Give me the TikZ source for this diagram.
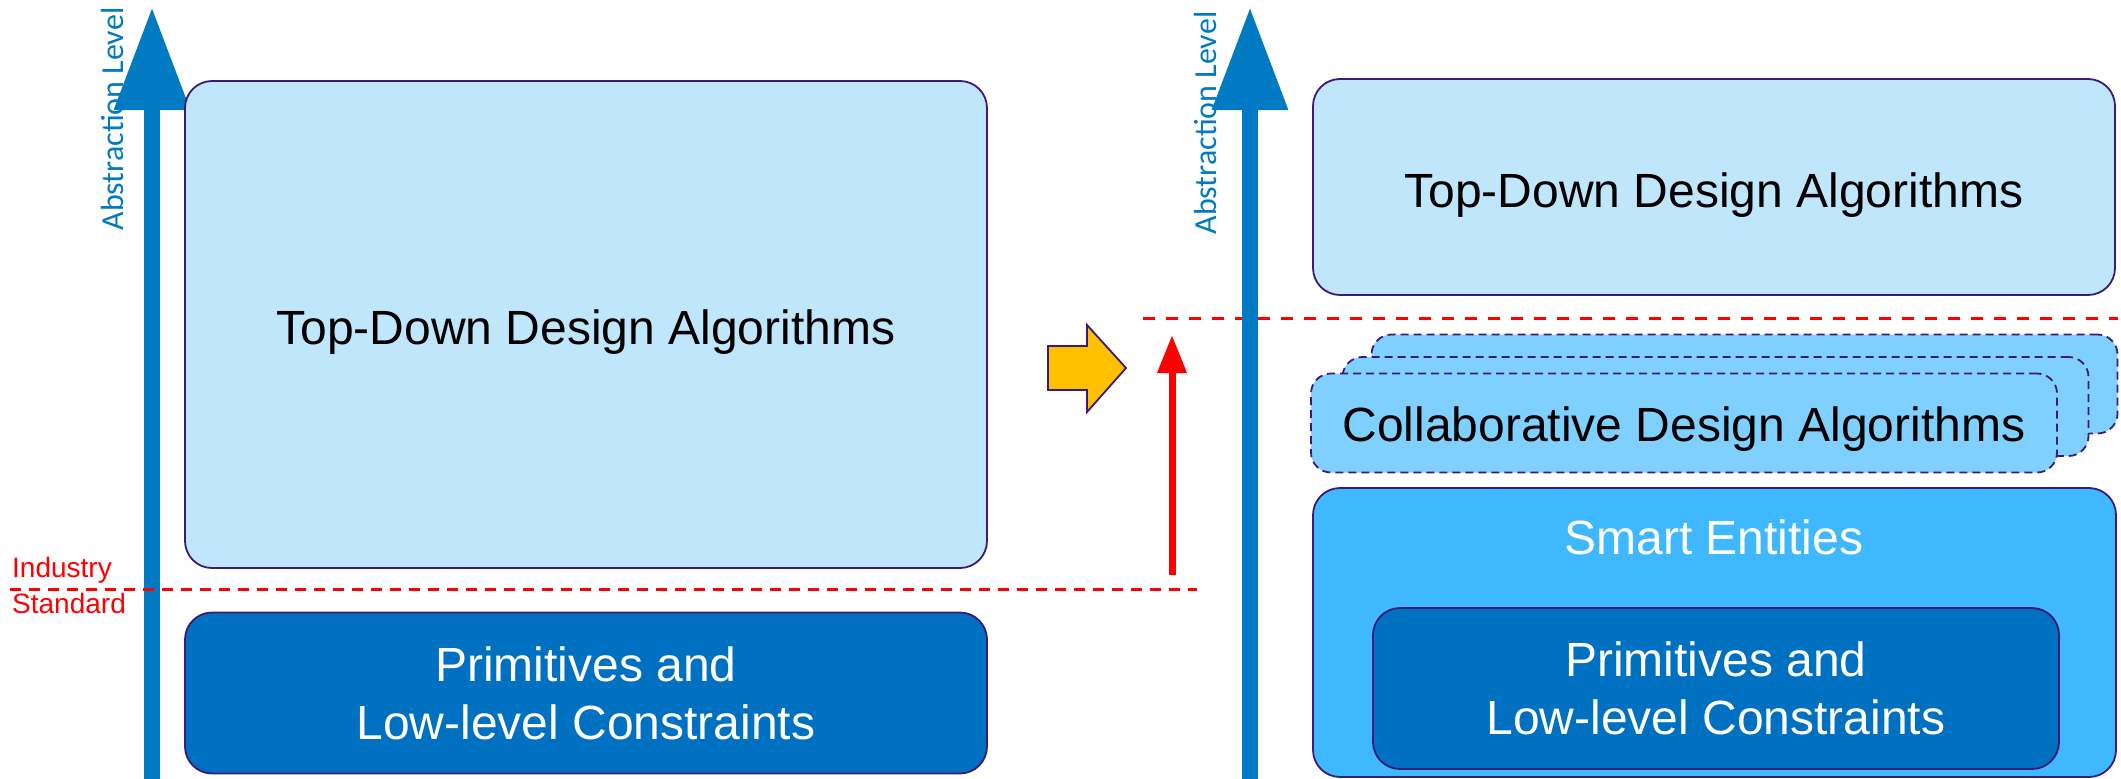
\documentclass[tikz,border=0pt]{standalone}
\usepackage{fontspec}
\setmainfont{Liberation Sans}
\newfontfamily\axisfont{Carlito}
\usetikzlibrary{arrows.meta}
\definecolor{axisblue}{RGB}{0,122,194}
\definecolor{edgepurple}{RGB}{60,26,120}
\definecolor{paleblue}{RGB}{192,230,252}
\definecolor{deepblue}{RGB}{0,112,192}
\definecolor{skyblue}{RGB}{64,184,255}
\definecolor{collabblue}{RGB}{128,208,255}
\definecolor{arrowgold}{RGB}{255,192,0}
\begin{document}
\begin{tikzpicture}[x=1pt,y=-1pt,
  box/.style={draw=edgepurple, line width=1.8pt, rounded corners=27pt,
    inner sep=0pt, align=center, font=\fontsize{48}{58}\selectfont},
  palebox/.style={box, fill=paleblue, text=black},
  deepbox/.style={box, fill=deepblue, text=white},
  collabbox/.style={box, fill=collabblue, dashed, dash pattern=on 8pt off 5pt,
    rounded corners=20pt, minimum width=746pt, minimum height=99pt},
  axis/.style={draw=axisblue, line width=16pt,
    -{Triangle[width=72pt, length=103pt]}},
  axislabel/.style={text=axisblue, rotate=90, inner sep=0pt,
    font=\axisfont\fontsize{32}{36}\selectfont},
  levelline/.style={draw=red, line width=3pt, dash pattern=on 11pt off 8pt},
  risearrow/.style={draw=red, line width=7pt,
    -{Triangle[width=28pt, length=38pt]}},
  redlabel/.style={text=red, inner sep=0pt, anchor=base west,
    font=\fontsize{28}{33}\selectfont}
]
\useasboundingbox (0,0) rectangle (2121,779);

% ---------- left panel ----------
\coordinate (la0) at (152,779);
\coordinate (la1) at (152,7);
\draw[axis] (la0) -- (la1);
\node[axislabel] (llab) at (113,119) {Abstraction Level};

\node[palebox, minimum width=802pt, minimum height=487pt,
  text height=50pt, text depth=10pt] (ltop) at (586,324.5)
  {Top-Down Design Algorithms};
\node[deepbox, minimum width=802pt, minimum height=161pt] (lprim) at (586,693)
  {Primitives and\\Low-level Constraints};

\coordinate (std0) at (10,589);
\coordinate (std1) at (1197,589);
\draw[levelline] (std0) -- (std1);
\node[redlabel] (ind) at (12,577) {Industry};
\node[redlabel] (stdl) at (12,613) {Standard};

% ---------- transition ----------
\filldraw[fill=arrowgold, draw=edgepurple, line width=1.8pt, line join=miter]
  (1048,346) -- (1087,346) -- (1087,325) -- (1126,368) -- (1087,412)
  -- (1087,390) -- (1048,390) -- cycle;

\coordinate (r0) at (1172,575);
\coordinate (r1) at (1172,335);
\draw[risearrow] (r0) -- (r1);

\coordinate (new0) at (1143,318);
\coordinate (new1) at (2118,318);
\draw[levelline, dash pattern=on 12pt off 11pt] (new0) -- (new1);

% ---------- right panel ----------
\coordinate (ra0) at (1250,779);
\coordinate (ra1) at (1250,7);
\draw[axis] (ra0) -- (ra1);
\node[axislabel] (rlab) at (1205,123) {Abstraction Level};

\node[palebox, minimum width=802pt, minimum height=216pt,
  text height=50pt, text depth=10pt] (rtop) at (1714,187)
  {Top-Down Design Algorithms};

\node[collabbox] (cb3) at (1744.5,384) {};
\node[collabbox] (cb2) at (1715.5,406.5) {};
\node[collabbox, text height=46pt, text depth=10pt] (cb1) at (1684,423)
  {Collaborative Design Algorithms};

\node[box, fill=skyblue, minimum width=803pt, minimum height=289pt] (smart)
  at (1714.5,632.5) {};
\node[text=white, inner sep=0pt, font=\fontsize{48}{58}\selectfont] (smartlab)
  at (1714,537) {Smart Entities};
\node[deepbox, minimum width=686pt, minimum height=161pt] (rprim) at (1716,688.5)
  {Primitives and\\Low-level Constraints};
\end{tikzpicture}
\end{document}
